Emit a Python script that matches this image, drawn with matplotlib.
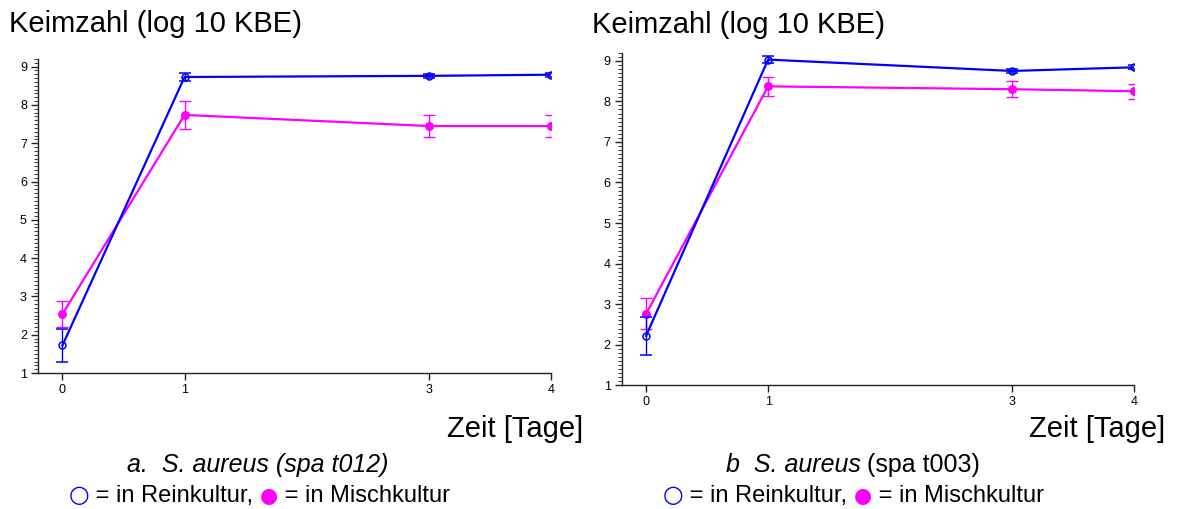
import matplotlib
matplotlib.use('Agg')
import matplotlib.pyplot as plt
from matplotlib.ticker import MultipleLocator
from matplotlib.offsetbox import TextArea, HPacker, AnchoredOffsetbox

plt.rcParams['font.family'] = ['Liberation Sans', 'DejaVu Sans']

days = [0, 1, 3, 4]

# panel a: S. aureus (spa t012)
a_rein = [1.72, 8.73, 8.76, 8.79]
a_rein_err = [0.42, 0.10, 0.05, 0.05]
a_misch = [2.54, 7.74, 7.45, 7.45]
a_misch_err = [0.34, 0.36, 0.29, 0.29]

# panel b: S. aureus (spa t003)
b_rein = [2.22, 9.03, 8.75, 8.84]
b_rein_err = [0.47, 0.08, 0.04, 0.05]
b_misch = [2.76, 8.37, 8.30, 8.25]
b_misch_err = [0.38, 0.23, 0.20, 0.19]

BLUE = '#0000ff'
MAGENTA = '#ff00ff'

fig = plt.figure(figsize=(11.77, 5.09), dpi=100)


def draw_panel(ax, rein, rein_err, misch, misch_err):
    ax.errorbar(days, rein, yerr=rein_err, color=BLUE, lw=1.6, marker='o',
                ms=5, mfc='none', mec=BLUE, mew=1.1, capsize=4,
                elinewidth=1.0, capthick=1.0, zorder=3)
    ax.errorbar(days, misch, yerr=misch_err, color=MAGENTA, lw=1.6, marker='o',
                ms=5.5, mfc=MAGENTA, mec=MAGENTA, capsize=4,
                elinewidth=1.0, capthick=1.0, zorder=2)
    ax.set_xlim(-0.2, 4.0)
    ax.set_ylim(1, 9.2)
    ax.set_xticks(days)
    ax.set_yticks(range(1, 10))
    ax.yaxis.set_minor_locator(MultipleLocator(0.1))
    ax.spines['top'].set_visible(False)
    ax.spines['right'].set_visible(False)
    for s in ('left', 'bottom'):
        ax.spines[s].set_color('#222222')
        ax.spines[s].set_linewidth(1.0)
    ax.tick_params(axis='both', which='major', labelsize=9, length=5,
                   width=1.0, color='#222222', pad=3)
    ax.tick_params(axis='y', which='minor', length=3, width=0.8, color='#444444')
    ax.tick_params(axis='x', which='minor', bottom=False)


ax1 = fig.add_axes([38 / 1177, 1 - 373 / 509, 513 / 1177, 314 / 509])
draw_panel(ax1, a_rein, a_rein_err, a_misch, a_misch_err)

ax2 = fig.add_axes([621.7 / 1177, 1 - 385.3 / 509, 512.3 / 1177, 332.6 / 509])
draw_panel(ax2, b_rein, b_rein_err, b_misch, b_misch_err)

# axis titles
fig.text(9 / 1177, 1 - 32 / 509, 'Keimzahl (log 10 KBE)', fontsize=21, va='baseline')
fig.text(592 / 1177, 1 - 33 / 509, 'Keimzahl (log 10 KBE)', fontsize=21, va='baseline')
fig.text(583 / 1177, 1 - 437 / 509, 'Zeit [Tage]', fontsize=21, ha='right', va='baseline')
fig.text(1165 / 1177, 1 - 437 / 509, 'Zeit [Tage]', fontsize=21, ha='right', va='baseline')


def packed_line(parts, xc, yc):
    boxes = [TextArea(t, textprops=p) for t, p in parts]
    pack = HPacker(children=boxes, align='baseline', pad=0, sep=0)
    box = AnchoredOffsetbox(loc='center', child=pack, pad=0, frameon=False,
                            bbox_to_anchor=(xc / 1177, 1 - yc / 509),
                            bbox_transform=fig.transFigure, borderpad=0)
    fig.add_artist(box)


txt = dict(fontsize=17)
ital = dict(fontsize=18, style='italic')

packed_line([('a.  S. aureus (spa t012)', ital)], 258, 465)
packed_line([('b  S. aureus', ital), (' (spa t003)', dict(fontsize=18))], 853, 465)

sym_open = dict(fontsize=17, color=BLUE, family='DejaVu Sans')
sym_fill = dict(fontsize=15, color=MAGENTA, family='DejaVu Sans')
for xc in (259, 853):
    packed_line([('○', sym_open), (' = in Reinkultur, ', txt),
                 ('●', sym_fill), (' = in Mischkultur', txt)], xc, 495)

fig.savefig('out.png', dpi=100)
